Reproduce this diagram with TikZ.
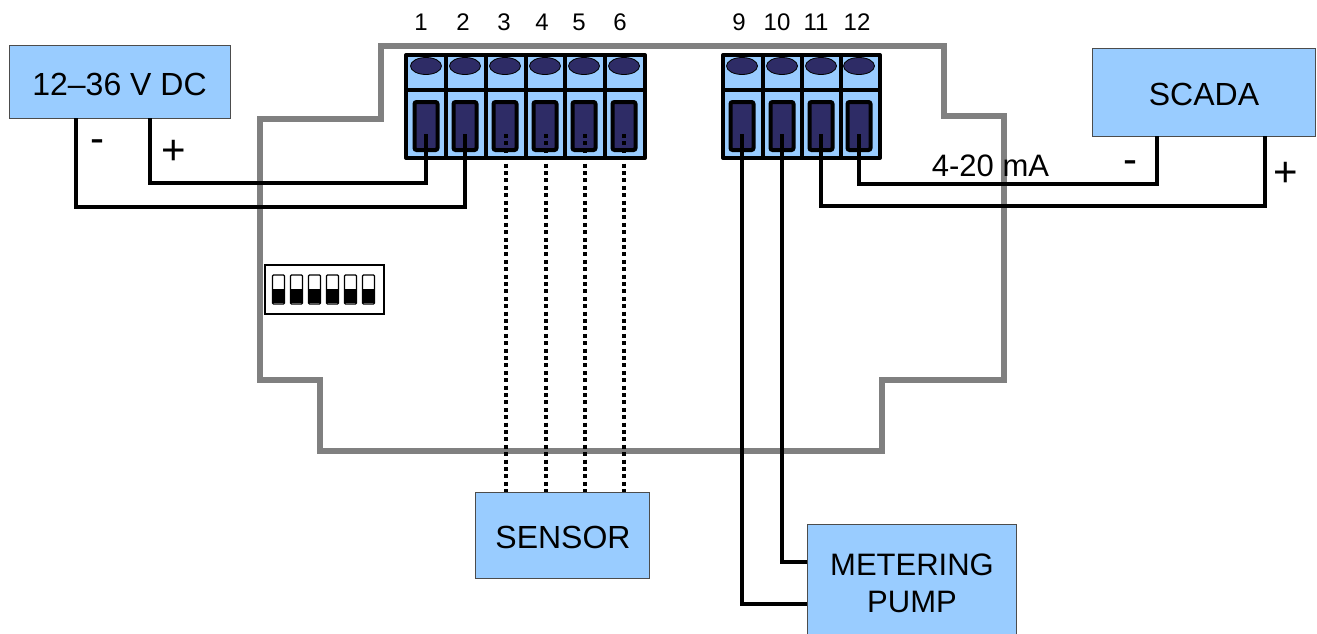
\documentclass[tikz,border=0pt]{standalone}
\usepackage{fontspec}
\setmainfont{Liberation Sans}
\definecolor{lblue}{HTML}{99CCFF}
\definecolor{navy}{HTML}{2E2C66}
\definecolor{edge}{HTML}{808080}
\newcommand{\fsz}[1]{\fontsize{#1}{#1}\selectfont}
\tikzset{
  unit/.style={draw=black!70,line width=0.6pt,fill=lblue,inner sep=0pt,minimum width=#1},
  wire/.style={line width=3.6pt,line join=miter,line cap=butt},
  dotwire/.style={line width=3.6pt,dash pattern=on 4pt off 3.4pt},
  slotbox/.style={draw=black,line width=4pt,fill=navy,rounded corners=2pt,inner sep=0pt,minimum width=23pt,minimum height=48pt},
  screw/.style={ellipse,draw=black,line width=0.8pt,fill=navy,inner sep=0pt,minimum width=31pt,minimum height=17pt},
  num/.style={font=\fsz{24},inner sep=0pt},
  big/.style={font=\fsz{32},inner sep=0pt},
  sign/.style={font=\fsz{42},inner sep=0pt},
  dipsw/.style={draw=black,line width=1.2pt,fill=white,rounded corners=1pt,inner sep=0pt,minimum width=12pt,minimum height=29pt}
}
\usetikzlibrary{shapes.geometric}
\begin{document}
\begin{tikzpicture}[x=1pt,y=-1pt]
\useasboundingbox (0,0) rectangle (1317,634);
% housing outline
\draw[edge,line width=5.5pt,line join=miter] (381,46) -- (944,46) -- (944,116) -- (1004,116) -- (1004,380) -- (882,380) -- (882,451) -- (320,451) -- (320,380) -- (260,380) -- (260,119) -- (381,119) -- cycle;
% DIP switch
\node[draw=black,line width=1.2pt,fill=white,minimum width=119pt,minimum height=49pt,inner sep=0pt] (dip) at (324.5,289.5) {};
\foreach \i/\x in {1/278.5,2/296.5,3/314.5,4/332.5,5/350.5,6/368.5}{
  \node[dipsw] (sw\i) at (\x,289.5) {};
  \fill[black] (\x-6,288.5) rectangle (\x+6,303);
}
% terminal blocks
\foreach \i/\a/\b/\c/\l in {1/406/446/426/421,2/446/486/465/463,3/486/526/505/504,4/526/565/545/542,5/565/605/584/579,6/605/645/624/620,
                         9/723/763/742/739,10/763/802/782/777,11/802/841/821/816,12/841/880/859/857}{
  \fill[lblue] (\a,55) rectangle (\b,158);
  \node[screw] (screw\i) at (\c,66) {};
  \node[slotbox] (slot\i) at (\c,126) {};
  \node[num] (lab\i) at (\l,22) {\i};
  \coordinate (t\i) at (\c,134);
}
\draw[line width=4pt,line join=round] (406,55) rectangle (645,158);
\draw[line width=4pt] (406,90) -- (645,90);
\foreach \x in {446,486,526,565,605}{\draw[line width=4pt] (\x,55) -- (\x,158);}
\draw[line width=4pt,line join=round] (723,55) rectangle (880,158);
\draw[line width=4pt] (723,90) -- (880,90);
\foreach \x in {763,802,841}{\draw[line width=4pt] (\x,55) -- (\x,158);}
% units
\node[unit=221pt,minimum height=73pt] (psu) at (119.5,81.5) {};
\node[big] (psuT) at (119.5,84) {12–36 V DC};
\node[unit=223pt,minimum height=88pt] (scada) at (1204,92) {};
\node[big] (scadaT) at (1204,94) {SCADA};
\node[unit=174pt,minimum height=86pt] (sensor) at (562,535) {};
\node[big] (sensorT) at (563,537) {SENSOR};
\node[unit=209pt,minimum height=110pt] (pump) at (911.5,579) {};
\node[font=\fsz{31},inner sep=0pt] (pumpA) at (912,565) {METERING};
\node[font=\fsz{31},inner sep=0pt] (pumpB) at (912,602) {PUMP};
% wires
\coordinate (psuM) at (76,118);
\coordinate (psuP) at (150,118);
\draw[wire] (psuP) -- (150,183) -- (t1 |- 0,183) -- (t1);
\draw[wire] (psuM) -- (76,207) -- (t2 |- 0,207) -- (t2);
\coordinate (scM) at (1157,136);
\coordinate (scP) at (1265,136);
\draw[wire] (t12) -- (859,184) -- (scM |- 0,184) -- (scM);
\draw[wire] (t11) -- (821,206) -- (scP |- 0,206) -- (scP);
\coordinate (pA) at (807,562);
\coordinate (pB) at (807,604);
\draw[wire] (t10) -- (782,562) -- (pA);
\draw[wire] (t9) -- (742,604) -- (pB);
\foreach \i/\x in {3/506,4/546,5/585,6/624}{
  \coordinate (sn\i) at (\x,492);
  \draw[dotwire] (\x,134) -- (sn\i);
}
% labels
\node[sign] (mLeft) at (97,146) {-};
\node[sign] (pLeft) at (174,152) {+};
\node[font=\fsz{31},inner sep=0pt] (ma) at (990.5,166) {4-20 mA};
\node[sign] (mRight) at (1130,167) {-};
\node[sign] (pRight) at (1286,174) {+};
\end{tikzpicture}
\end{document}
